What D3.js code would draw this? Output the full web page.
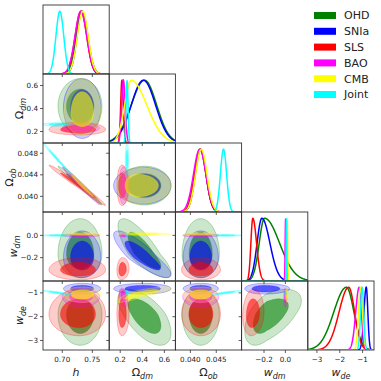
<!DOCTYPE html>
<html><head><meta charset="utf-8">
<script src="https://cdn.jsdelivr.net/npm/d3@7"></script>
<style>body{margin:0;background:#fff}</style>
</head><body><svg id="c" width="381" height="381"></svg>
<script>
// ---------------- data ----------------
const datasets = ["OHD","SNIa","SLS","BAO","CMB","Joint"];
const colors = ["#008000","#0000ff","#ff0000","#ff00ff","#ffff00","#00ffff"];
const params = ["h","Ωdm","Ωob","wdm","wde"];
const ranges = [[0.668,0.778],[0.1,0.7],[0.0371,0.0499],[-0.41,0.21],[-3.4,-0.5]];
const xTicks = [[0.70,0.75],[0.2,0.4,0.6],[0.040,0.045],[-0.2,0.0],[-3,-2,-1]];
const xTickLabels = [["0.70","0.75"],["0.2","0.4","0.6"],["0.040","0.045"],["−0.2","0.0"],["−3","−2","−1"]];
const yTicks = [[],[0.2,0.4,0.6],[0.040,0.044,0.048],[-0.2,0.0],[-3,-2,-1]];
const yTickLabels = [[],["0.2","0.4","0.6"],["0.040","0.044","0.048"],["−0.2","0.0"],["−3","−2","−1"]];

// 1D marginals per dataset: [peak, sigma left, sigma right]
const marg_h   = [[0.733,0.0095,0.0095],[0.733,0.0085,0.0085],[0.731,0.0095,0.0095],[0.731,0.0098,0.0098],[0.734,0.0090,0.0090],[0.696,0.0065,0.0065]];
const marg_odm = [[0.42,0.12,0.11],[0.41,0.11,0.11],[0.215,0.011,0.013],[0.229,0.016,0.016],[0.30,0.06,0.14],[0.262,0.009,0.009]];
const marg_oob = [[0.0419,0.0011,0.0011],[0.0420,0.00105,0.00105],[0.0419,0.0011,0.0011],[0.0418,0.0012,0.0012],[0.0421,0.0011,0.0011],[0.0464,0.0006,0.0006]];
const marg_wdm = [[-0.195,0.05,0.14],[-0.22,0.045,0.075],[-0.305,0.018,0.035],[0.002,0.004,0.004],[0.018,0.004,0.004],[0.010,0.003,0.003]];
const marg_wde = [[-1.71,0.55,0.33],[-0.84,0.10,0.07],[-1.61,0.42,0.26],[-1.15,0.15,0.10],[-1.09,0.09,0.09],[-1.02,0.07,0.07]];

// 2D 95% contour extents per dataset: [centre, low, high]
const ext_h   = [[0.730,0.693,0.766],[0.733,0.702,0.764],[0.728,0.678,0.772],[0.731,0.700,0.762],[0.733,0.703,0.764],[0.694,0.668,0.716]];
const ext_odm = [[0.42,0.18,0.66],[0.41,0.14,0.66],[0.215,0.17,0.28],[0.229,0.19,0.27],[0.36,0.17,0.66],[0.262,0.245,0.277]];
const ext_oob = [[0.0420,0.0384,0.0456],[0.0420,0.0386,0.0454],[0.0420,0.0383,0.0458],[0.0420,0.0385,0.0455],[0.0420,0.0386,0.0454],[0.0466,0.0440,0.0499]];
const ext_wdm = [[-0.17,-0.38,0.15],[-0.20,-0.38,0.04],[-0.31,-0.40,-0.20],[0.0,-0.015,0.015],[0.012,0.0,0.024],[0.0,-0.008,0.008]];
const ext_wde = [[-1.9,-3.2,-0.85],[-0.82,-1.05,-0.6],[-1.9,-2.8,-0.85],[-1.15,-1.6,-0.8],[-1.05,-1.4,-0.75],[-1.0,-1.1,-0.9]];

// correlations per dataset for each pair (row param, column param)
const rho_odm_h   = [0,0,0,0,0,0];
const rho_oob_h   = [-0.99,-0.99,-0.99,-0.99,-0.99,-0.995];
const rho_oob_odm = [0,0,0,0,0,0];
const rho_wdm_h   = [0,0,0,0,0,0];
const rho_wdm_odm = [-0.8,-0.85,0.1,0,0,0];
const rho_wdm_oob = [0,0,0,0,0,0];
const rho_wde_h   = [0,0,0,0,0,-0.9];
const rho_wde_odm = [-0.6,0,0,-0.3,0.85,0];
const rho_wde_oob = [0,0,0,0,0,0.9];
const rho_wde_wdm = [0.55,0,0.1,0,0,0];

const marg = [marg_h, marg_odm, marg_oob, marg_wdm, marg_wde];
const ext = [ext_h, ext_odm, ext_oob, ext_wdm, ext_wde];
const rhoTable = {"1,0":rho_odm_h,"2,0":rho_oob_h,"2,1":rho_oob_odm,"3,0":rho_wdm_h,"3,1":rho_wdm_odm,
  "3,2":rho_wdm_oob,"4,0":rho_wde_h,"4,1":rho_wde_odm,"4,2":rho_wde_oob,"4,3":rho_wde_wdm};

// ---------------- layout ----------------
const L = 43, R = 374, T = 5, B = 350, N = 5;
const cw = (R - L) / N, rh = (B - T) / N;
const font = "DejaVu Sans, sans-serif";
const frameCol = "#333";

const svg = d3.select("#c");
const defs = svg.append("defs");

const xScale = j => d3.scaleLinear().domain(ranges[j]).range([L + j*cw, L + (j+1)*cw]);
const yScale = i => d3.scaleLinear().domain(ranges[i]).range([T + (i+1)*rh, T + i*rh]);

function splitNormal(x, p) {
  const s = x < p[0] ? p[1] : p[2];
  return Math.exp(-0.5 * ((x - p[0]) / s) ** 2);
}

function contourPts(ex, ey, rho, k) {
  const pts = [], n = 120, sq = Math.sqrt(Math.max(0, 1 - rho*rho));
  for (let t = 0; t < n; t++) {
    const th = 2*Math.PI*t/n;
    const a = Math.cos(th), b = rho*a + sq*Math.sin(th);
    const dx = a * (a >= 0 ? ex[2]-ex[0] : ex[0]-ex[1]) * k;
    const dy = b * (b >= 0 ? ey[2]-ey[0] : ey[0]-ey[1]) * k;
    pts.push([ex[0] + dx, ey[0] + dy]);
  }
  return pts;
}

const tickLabelWidth = {};

for (let i = 0; i < N; i++) {
  for (let j = 0; j <= i; j++) {
    const x0 = L + j*cw, y0 = T + i*rh;
    const id = `clip${i}${j}`;
    defs.append("clipPath").attr("id", id).append("rect")
      .attr("x", x0).attr("y", y0).attr("width", cw).attr("height", rh);
    const g = svg.append("g").attr("clip-path", `url(#${id})`);
    const xs = xScale(j);
    if (i === j) {
      const ys = d3.scaleLinear().domain([0, 1.1]).range([y0 + rh, y0]);
      const xsamp = d3.range(0, 401).map(k => ranges[j][0] + (ranges[j][1]-ranges[j][0])*k/400);
      datasets.forEach((d, di) => {
        const p = marg[j][di];
        g.append("path")
          .attr("d", d3.line().x(v => xs(v)).y(v => ys(splitNormal(v, p)))(xsamp))
          .attr("fill", "none").attr("stroke", colors[di]).attr("stroke-width", 1.5);
      });
    } else {
      const ys = yScale(i);
      const rhos = rhoTable[`${i},${j}`];
      const line = d3.line().x(p => xs(p[0])).y(p => ys(p[1])).curve(d3.curveLinearClosed);
      datasets.forEach((d, di) => {
        const ex = ext[j][di], ey = ext[i][di];
        g.append("path").attr("d", line(contourPts(ex, ey, rhos[di], 1)))
          .attr("fill", colors[di]).attr("fill-opacity", 0.2)
          .attr("stroke", colors[di]).attr("stroke-opacity", 0.35).attr("stroke-width", 0.8);
        g.append("path").attr("d", line(contourPts(ex, ey, rhos[di], 0.62)))
          .attr("fill", colors[di]).attr("fill-opacity", 0.58)
          .attr("stroke", colors[di]).attr("stroke-opacity", 0.4).attr("stroke-width", 0.6);
      });
    }
    // frame
    svg.append("rect").attr("x", x0).attr("y", y0).attr("width", cw).attr("height", rh)
      .attr("fill", "none").attr("stroke", frameCol).attr("stroke-width", 0.9);
    // x ticks (outward, bottom)
    xTicks[j].forEach((v, k) => {
      svg.append("line").attr("x1", xs(v)).attr("x2", xs(v)).attr("y1", y0 + rh).attr("y2", y0 + rh + 3)
        .attr("stroke", frameCol).attr("stroke-width", 0.8);
      if (i === N-1) {
        svg.append("text").attr("x", xs(v)).attr("y", y0 + rh + 12).attr("text-anchor", "middle")
          .attr("font-family", font).attr("font-size", 7.2).attr("fill", "#222").text(xTickLabels[j][k]);
      }
    });
    // y ticks (outward, left) for 2D panels
    if (i !== j) {
      const ys = yScale(i);
      yTicks[i].forEach((v, k) => {
        svg.append("line").attr("x1", x0 - 3).attr("x2", x0).attr("y1", ys(v)).attr("y2", ys(v))
          .attr("stroke", frameCol).attr("stroke-width", 0.8);
        if (j === 0) {
          const t = svg.append("text").attr("x", x0 - 5).attr("y", ys(v)).attr("dy", "0.35em").attr("text-anchor", "end")
            .attr("font-family", font).attr("font-size", 7.2).attr("fill", "#222").text(yTickLabels[i][k]);
          const w = t.node().getComputedTextLength();
          tickLabelWidth[i] = Math.max(tickLabelWidth[i] || 0, w);
        }
      });
    }
  }
}

// axis titles
function title(sel, k) {
  const t = sel.attr("font-family", font).attr("font-size", 11).attr("fill", "#222");
  if (k === 0) { t.append("tspan").attr("font-style", "italic").text("h"); return; }
  if (k <= 2) t.append("tspan").text("Ω");
  else t.append("tspan").attr("font-style", "italic").text("w");
  t.append("tspan").attr("font-style", "italic").attr("font-size", 8).attr("dy", 3)
    .text(k === 1 ? "dm" : k === 2 ? "ob" : k === 3 ? "dm" : "de");
}
for (let j = 0; j < N; j++) {
  title(svg.append("text").attr("x", L + (j+0.5)*cw).attr("y", 376).attr("text-anchor", "middle"), j);
}
for (let i = 1; i < N; i++) {
  const cy = T + (i+0.5)*rh;
  const cx = L - 5 - tickLabelWidth[i] - 4;
  title(svg.append("text").attr("text-anchor", "middle")
    .attr("transform", `translate(${cx},${cy}) rotate(-90)`), i);
}

// legend
datasets.forEach((d, di) => {
  const y = 15.5 + di*15.8;
  svg.append("rect").attr("x", 314).attr("y", y - 3.5).attr("width", 22).attr("height", 7).attr("fill", colors[di]);
  svg.append("text").attr("x", 344).attr("y", y).attr("dy", "0.36em").attr("font-family", font)
    .attr("font-size", 11).attr("fill", "#222").text(d);
});
</script></body></html>
